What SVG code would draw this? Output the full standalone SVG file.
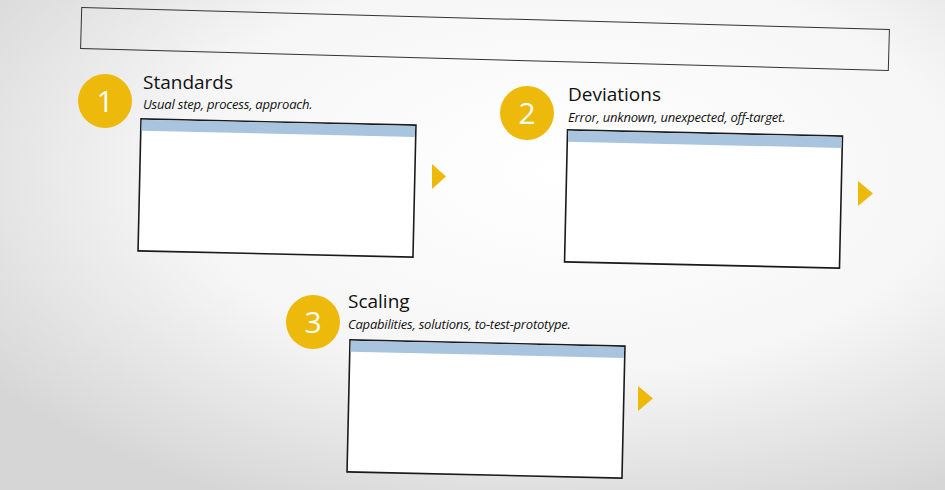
<svg xmlns="http://www.w3.org/2000/svg" width="945" height="490" viewBox="0 0 945 490">
<defs>
<radialGradient id="bg" cx="0.6" cy="0.35" r="0.75">
<stop offset="0" stop-color="#ffffff"/><stop offset="0.55" stop-color="#f6f6f6"/><stop offset="1" stop-color="#d6d6d6"/>
</radialGradient>
<style>
.box{fill:#fff;stroke:#1a1a1a;stroke-width:1.6}
.bar{fill:#a9c4df}
.num{fill:#edb90a}
.numt{font-family:"Open Sans","Liberation Sans",sans-serif;font-size:30px;fill:#fff;text-anchor:middle}
.ttl{font-family:"Open Sans","Liberation Sans",sans-serif;font-size:19px;fill:#111}
.sub{font-family:"Open Sans","Liberation Sans",sans-serif;font-size:13px;font-style:italic;fill:#111;letter-spacing:-0.2px}
.tri{fill:#edb90a}
</style>
</defs>
<rect width="945" height="490" fill="url(#bg)"/>
<g id="header"><rect x="81" y="18.5" width="808" height="41" transform="rotate(1.56 485 39)" fill="none" stroke="#333" stroke-width="1"/></g>
<g id="n1">
<circle class="num" cx="105" cy="101" r="27"/><text class="numt" x="105" y="112">1</text>
<text class="ttl" x="143" y="89">Standards</text>
<text class="sub" x="143" y="109">Usual step, process, approach.</text>
<g transform="rotate(1.3 277 188)"><rect class="box" x="139.5" y="122" width="275" height="132"/><rect class="bar" x="140.3" y="122.8" width="273.4" height="11"/></g>
</g>
<g id="n2">
<circle class="num" cx="527" cy="113" r="27"/><text class="numt" x="527" y="124">2</text>
<text class="ttl" x="568" y="101">Deviations</text>
<text class="sub" x="568" y="122">Error, unknown, unexpected, off-target.</text>
<g transform="rotate(1.3 703.5 199)"><rect class="box" x="566" y="133" width="275" height="132"/><rect class="bar" x="566.8" y="133.8" width="273.4" height="11"/></g>
</g>
<g id="n3">
<circle class="num" cx="313" cy="322" r="27"/><text class="numt" x="313" y="333">3</text>
<text class="ttl" x="348" y="308">Scaling</text>
<text class="sub" x="348" y="329">Capabilities, solutions, to-test-prototype.</text>
<g transform="rotate(1.3 486 409)"><rect class="box" x="348.5" y="343" width="275" height="132"/><rect class="bar" x="349.3" y="343.8" width="273.4" height="11"/></g>
</g>
<g id="connectors">
<polygon class="tri" points="432,164 446,176.5 432,189"/>
<polygon class="tri" points="858,181 873,193.5 858,206"/>
<polygon class="tri" points="638,386 653,398.5 638,411"/>
</g>
</svg>
